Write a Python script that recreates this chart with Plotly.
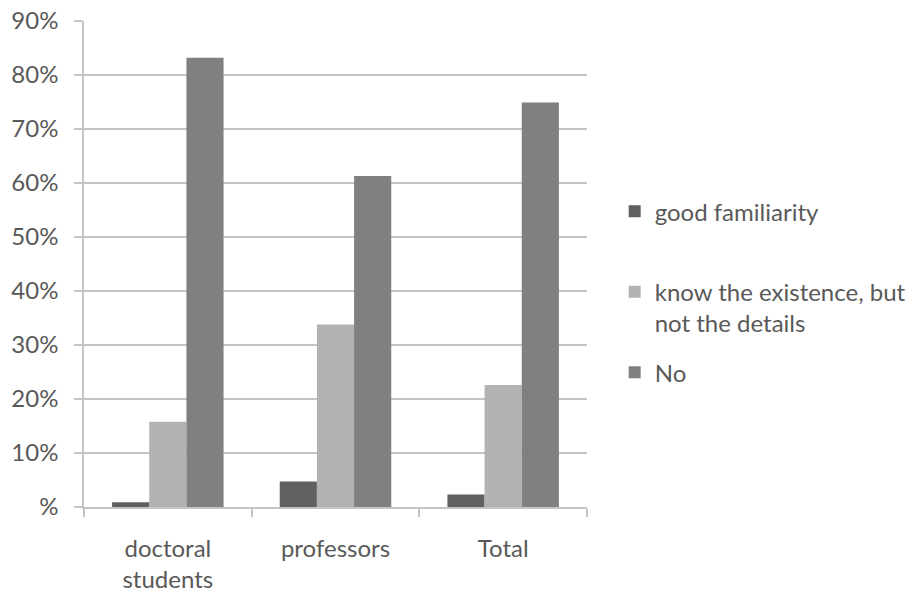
import plotly.graph_objects as go

# Survey groups and answer shares (fractions of respondents)
categories = ["doctoral<br>students", "professors", "Total"]
good_familiarity = [0.009, 0.047, 0.023]
know_existence = [0.158, 0.338, 0.226]
no_knowledge = [0.832, 0.613, 0.749]

series_names = ["good familiarity<br>\u00a0", "know the existence, but<br>not the details", "No"]
series_colors = ["#606060", "#b2b2b2", "#808080"]

y_tick_values = [0, 0.1, 0.2, 0.3, 0.4, 0.5, 0.6, 0.7, 0.8, 0.9]
y_tick_labels = ["%", "10%", "20%", "30%", "40%", "50%", "60%", "70%", "80%", "90%"]

FONT = "Lato"
FONT_SIZE = 24
TEXT_COLOR = "#595959"
LINE_COLOR = "#c4c4c4"

fig = go.Figure()
for i, (name, values, color) in enumerate(
    zip(series_names, [good_familiarity, know_existence, no_knowledge], series_colors)
):
    fig.add_trace(
        go.Bar(
            x=categories,
            y=values,
            name=name,
            marker=dict(color=color, line=dict(width=0)),
            legendgroup=f"g{i}",
        )
    )

fig.update_layout(
    width=912,
    height=597,
    margin=dict(l=84, r=325, t=21, b=90, autoexpand=False),
    paper_bgcolor="white",
    plot_bgcolor="white",
    barmode="group",
    bargap=0.335,
    bargroupgap=0,
    font=dict(family=FONT, size=FONT_SIZE, color=TEXT_COLOR),
    showlegend=True,
    legend=dict(
        xref="container",
        yref="container",
        x=0.674,
        xanchor="left",
        y=0.683,
        yanchor="top",
        valign="top",
        traceorder="grouped",
        tracegroupgap=15,
        itemclick=False,
        font=dict(family=FONT, size=FONT_SIZE, color=TEXT_COLOR),
        bgcolor="rgba(0,0,0,0)",
    ),
    xaxis=dict(
        type="category",
        automargin=False,
        tickson="boundaries",
        ticks="outside",
        ticklen=8,
        tickwidth=1.5,
        tickcolor=LINE_COLOR,
        showline=True,
        linecolor=LINE_COLOR,
        linewidth=1.5,
        showgrid=False,
        ticklabelstandoff=19,
        tickfont=dict(family=FONT, size=FONT_SIZE, color=TEXT_COLOR),
    ),
    yaxis=dict(
        range=[0, 0.9],
        automargin=False,
        tickvals=y_tick_values,
        ticktext=y_tick_labels,
        ticks="outside",
        ticklen=8,
        tickwidth=1.5,
        tickcolor=LINE_COLOR,
        showline=True,
        linecolor=LINE_COLOR,
        linewidth=1.5,
        showgrid=True,
        gridcolor=LINE_COLOR,
        gridwidth=1.5,
        zeroline=False,
        ticklabelstandoff=11,
        tickfont=dict(family=FONT, size=FONT_SIZE, color=TEXT_COLOR),
    ),
)

fig.write_html("out.html")
